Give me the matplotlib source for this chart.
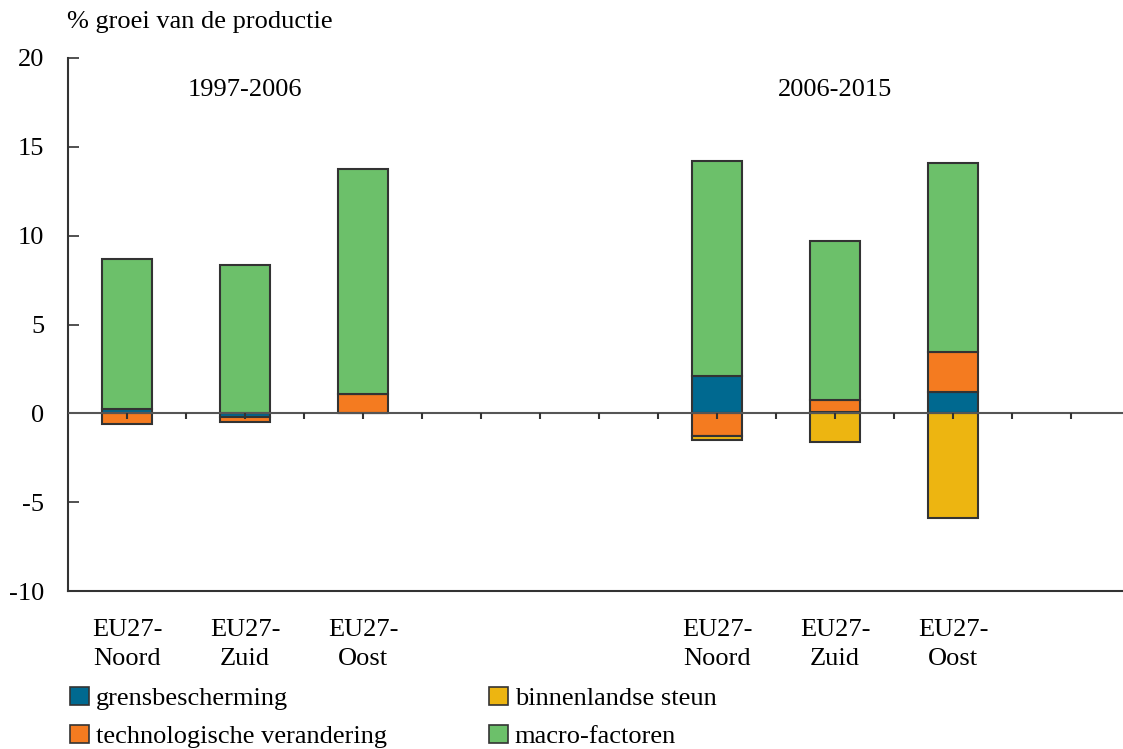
import numpy as np
import matplotlib
matplotlib.use("Agg")
import matplotlib.pyplot as plt
from matplotlib.patches import Patch

plt.rcParams['font.family'] = ['Liberation Serif', 'DejaVu Serif']

# data
regions = ["EU27-\nNoord", "EU27-\nZuid", "EU27-\nOost", "EU27-\nNoord", "EU27-\nZuid", "EU27-\nOost"]
periods = ["1997-2006", "2006-2015"]
grensbescherming = [0.22, -0.20, 0.0, 2.10, 0.10, 1.20]
technologie = [-0.60, -0.27, 1.09, -1.26, 0.65, 2.25]
binnenlands = [0.0, 0.0, 0.0, -0.26, -1.63, -5.91]
macro = [8.46, 8.35, 12.66, 12.12, 8.96, 10.65]

labels = ["grensbescherming", "technologische verandering", "binnenlandse steun", "macro-factoren"]
colors = ["#006990", "#F47B20", "#EDB511", "#6CC06A"]
series = [grensbescherming, technologie, binnenlands, macro]

pos = np.array([0, 1, 2, 5, 6, 7])
fs = 19

fig = plt.figure(figsize=(11.23, 7.49), dpi=100)
ax = fig.add_axes([68 / 1123, 158 / 749, 1 - 68 / 1123, 533 / 749])

# gestapelde staven, positief en negatief apart
pos_base = np.zeros(len(pos))
neg_base = np.zeros(len(pos))
for vals, col in zip(series, colors):
    v = np.array(vals)
    bottom = np.where(v >= 0, pos_base, neg_base)
    ax.bar(pos, v, bottom=bottom, width=0.42, color=col, edgecolor="#333333",
           linewidth=1.5, zorder=2)
    pos_base = pos_base + np.clip(v, 0, None)
    neg_base = neg_base + np.clip(v, None, 0)

# nullijn met kleine streepjes
ax.axhline(0, color="#555555", linewidth=1.5, zorder=3)
tick_x = np.arange(0, 8.01, 0.5)
ax.plot(tick_x, np.zeros(len(tick_x)), linestyle="none", marker=3, markersize=4,
        markeredgewidth=1.5, color="#333333", zorder=4)

ax.set_xlim(-0.5, 8.44)
ax.set_ylim(-10, 20)
ax.set_yticks([-10, -5, 0, 5, 10, 15, 20])
ax.set_yticklabels(["-10", "-5", "0", "5", "10", "15", "20"], fontsize=fs)
ax.tick_params(axis="y", direction="in", length=8, width=1.2, pad=17, colors="#333333",
               labelcolor="black")
ax.set_xticks(pos)
ax.set_xticklabels(regions, fontsize=fs, linespacing=1.45)
ax.tick_params(axis="x", length=0, pad=20)

for s in ["top", "right"]:
    ax.spines[s].set_visible(False)
for s in ["left", "bottom"]:
    ax.spines[s].set_color("#333333")
    ax.spines[s].set_linewidth(1.5)

ax.text(1, 18.2, periods[0], ha="center", va="center", fontsize=fs)
ax.text(6, 18.2, periods[1], ha="center", va="center", fontsize=fs)

fig.text(67 / 1123, 1 - 22 / 749, "% groei van de productie", ha="left", va="center", fontsize=fs)

handles = [Patch(facecolor=c, edgecolor="#333333", linewidth=1.2) for c in colors]
fig.legend(handles, labels, ncol=2, loc="upper left", bbox_to_anchor=(0.051, 0.101),
           frameon=False, fontsize=fs, handlelength=0.7, handleheight=0.7,
           handletextpad=0.25, columnspacing=3.9, labelspacing=0.55, borderpad=0)

fig.savefig("out.png", dpi=100)
